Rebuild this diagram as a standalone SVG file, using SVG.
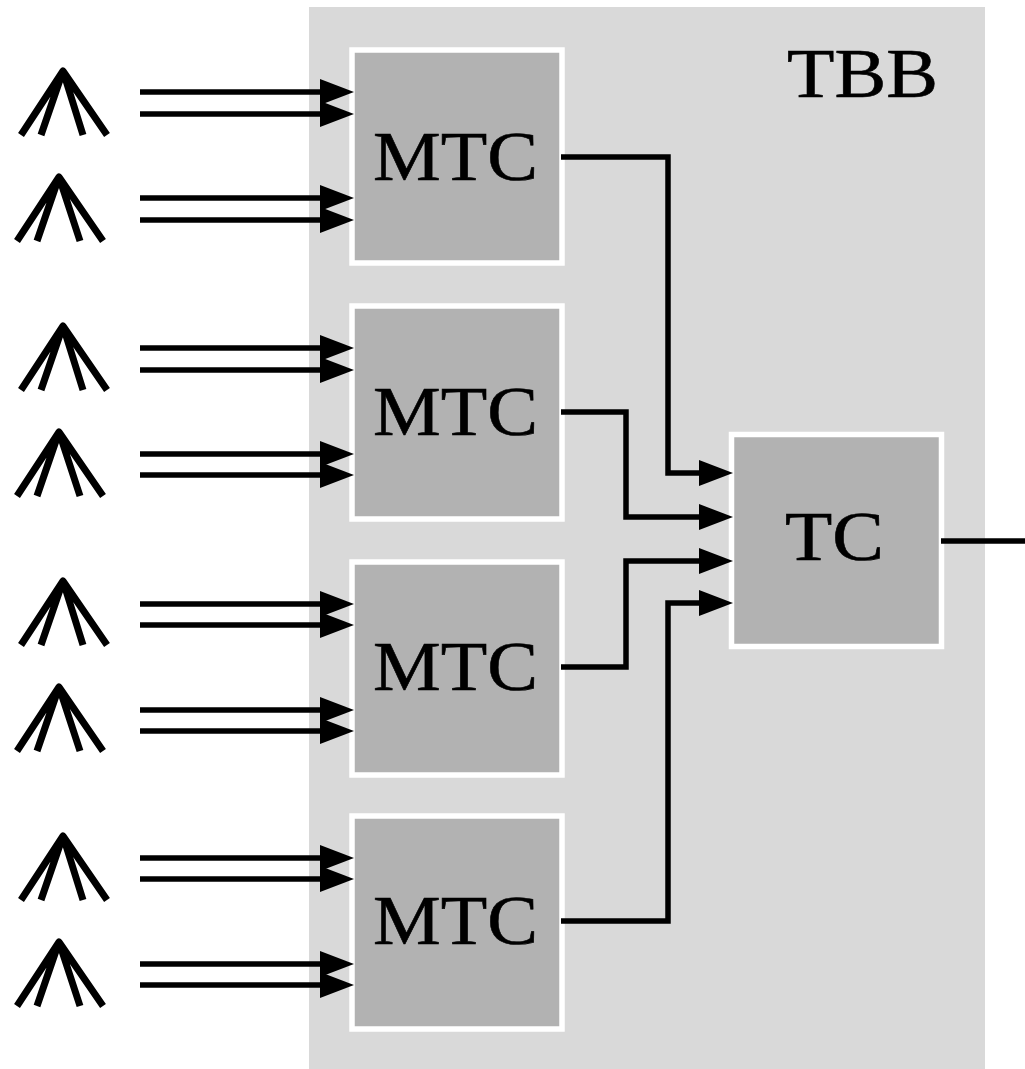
<svg xmlns="http://www.w3.org/2000/svg" width="1025" height="1069" viewBox="0 0 1025 1069">
<style>
.box{fill:#b2b2b2;stroke:#fff;stroke-width:5.500}
.lbl{font-family:"Liberation Serif","DejaVu Serif",serif;font-size:70px;fill:#000;stroke:#000;stroke-width:.6}
.ant{fill:none;stroke:#000;stroke-width:7;stroke-linecap:butt;stroke-linejoin:round}
#connectors path{fill:none;stroke:#000;stroke-width:5.500;stroke-linejoin:miter;stroke-linecap:butt}
</style>
<defs>
<marker id="ah" markerUnits="userSpaceOnUse" markerWidth="34" markerHeight="26" refX="14" refY="13" orient="auto"><path d="M0 0L34 13L0 26Z" fill="#000"/></marker>
<path id="a1" class="ant" d="M21 135L63 71L41 135M63 71L83 135M63 71L107 135"/>
<path id="a2" class="ant" d="M17 241L59 177L37 241M59 177L80 241M59 177L103 241"/>
</defs>
<rect id="tbb" x="309" y="7" width="676" height="1062" fill="#d9d9d9"/>
<text class="lbl" x="787" y="97" textLength="151" lengthAdjust="spacingAndGlyphs">TBB</text>
<g id="antennas">
<use href="#a1"/><use href="#a2"/>
<use href="#a1" y="255"/><use href="#a2" y="255"/>
<use href="#a1" y="510"/><use href="#a2" y="510"/>
<use href="#a1" y="765"/><use href="#a2" y="765"/>
</g>
<g id="mtc1"><rect class="box" x="352" y="50" width="210" height="213"/><text class="lbl" x="373" y="180" textLength="165" lengthAdjust="spacingAndGlyphs">MTC</text></g>
<g id="mtc2"><rect class="box" x="352" y="306" width="210" height="213"/><text class="lbl" x="373" y="435" textLength="165" lengthAdjust="spacingAndGlyphs">MTC</text></g>
<g id="mtc3"><rect class="box" x="352" y="562" width="210" height="213"/><text class="lbl" x="373" y="690" textLength="165" lengthAdjust="spacingAndGlyphs">MTC</text></g>
<g id="mtc4"><rect class="box" x="352" y="816" width="210" height="213"/><text class="lbl" x="373" y="944" textLength="165" lengthAdjust="spacingAndGlyphs">MTC</text></g>
<g id="tc"><rect class="box" x="731.500" y="434.500" width="210" height="212"/><text class="lbl" x="785" y="560" textLength="99" lengthAdjust="spacingAndGlyphs">TC</text></g>
<g id="connectors">
<path marker-end="url(#ah)" d="M140 92H334"/>
<path marker-end="url(#ah)" d="M140 114H334"/>
<path marker-end="url(#ah)" d="M140 198H334"/>
<path marker-end="url(#ah)" d="M140 220H334"/>
<path marker-end="url(#ah)" d="M140 348H334"/>
<path marker-end="url(#ah)" d="M140 370H334"/>
<path marker-end="url(#ah)" d="M140 454H334"/>
<path marker-end="url(#ah)" d="M140 475H334"/>
<path marker-end="url(#ah)" d="M140 604H334"/>
<path marker-end="url(#ah)" d="M140 625H334"/>
<path marker-end="url(#ah)" d="M140 710H334"/>
<path marker-end="url(#ah)" d="M140 731H334"/>
<path marker-end="url(#ah)" d="M140 858H334"/>
<path marker-end="url(#ah)" d="M140 879H334"/>
<path marker-end="url(#ah)" d="M140 964H334"/>
<path marker-end="url(#ah)" d="M140 985H334"/>
<path marker-end="url(#ah)" d="M561 157H668V473H713"/>
<path marker-end="url(#ah)" d="M561 412H626V517H713"/>
<path marker-end="url(#ah)" d="M561 667H626V561H713"/>
<path marker-end="url(#ah)" d="M561 921H668V603H713"/>
<path d="M941 541H1025"/>
</g>
</svg>
